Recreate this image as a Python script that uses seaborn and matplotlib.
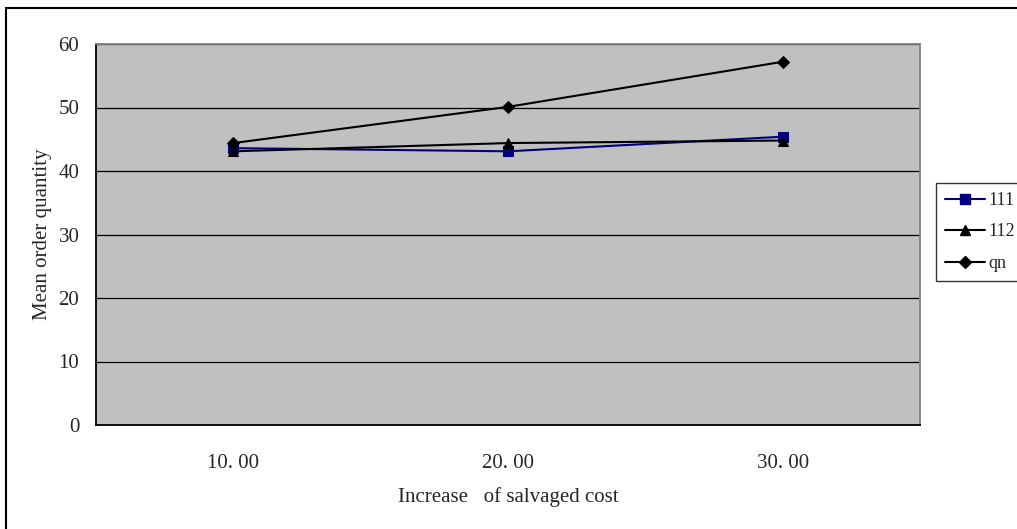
import pandas as pd
import seaborn as sns
import matplotlib.pyplot as plt
from matplotlib.patches import Rectangle
from matplotlib.lines import Line2D

# data
costs = ["10. 00", "20. 00", "30. 00"]
s111 = [43.6, 43.1, 45.4]
s112 = [43.1, 44.4, 44.8]
qn = [44.4, 50.1, 57.2]

df = pd.DataFrame({
    "cost": costs * 3,
    "value": s111 + s112 + qn,
    "series": ["111"] * 3 + ["112"] * 3 + ["qn"] * 3,
})

sns.set_style("white")
plt.rcParams["font.family"] = ["Liberation Serif", "DejaVu Serif"]

fig = plt.figure(figsize=(10.17, 5.29), dpi=100)
ax = fig.add_axes([96 / 1017, 104 / 529, 824 / 1017, 381 / 529])
ax.set_facecolor("#c0c0c0")

colors = {"111": "#000080", "112": "black", "qn": "black"}
markers = {"111": "s", "112": "^", "qn": "D"}
msizes = {"111": 7, "112": 7, "qn": 6}

for name, grp in df.groupby("series", sort=False):
    sns.lineplot(data=grp, x="cost", y="value", ax=ax, color=colors[name],
                 marker=markers[name], markersize=msizes[name],
                 markeredgecolor=colors[name], linewidth=1.5, legend=False)

ax.set_xlim(-0.5, 2.5)
ax.set_ylim(0, 60)
ax.set_yticks(range(0, 61, 10))
ax.yaxis.grid(True, color="black", linewidth=0.9)
ax.set_axisbelow(True)
ax.set_xticks([0, 1, 2])
ax.set_xticklabels(costs)
ax.set_xticks([-0.5, 0.5, 1.5, 2.5], minor=True)
ax.tick_params(axis="x", which="major", length=0, pad=21, labelsize=15)
ax.tick_params(axis="x", which="minor", direction="in", length=5, width=1, color="black")
ax.tick_params(axis="y", direction="out", length=4, width=1, color="black",
               labelsize=15, pad=8)
ax.set_xlabel("Increase   of salvaged cost", fontsize=15, labelpad=10)
ax.set_ylabel("Mean order quantity", fontsize=15, labelpad=5)

for side in ["left", "bottom"]:
    ax.spines[side].set_color("black")
    ax.spines[side].set_linewidth(1.3)
for side in ["top", "right"]:
    ax.spines[side].set_color("#808080")
    ax.spines[side].set_linewidth(1.3)
    ax.spines[side].set_visible(True)

handles = [Line2D([0], [0], color=colors[n], marker=markers[n], markersize=msizes[n],
                  markeredgecolor=colors[n], linewidth=1.5) for n in ["111", "112", "qn"]]
leg = fig.legend(handles, ["111", "112", "qn"], loc="upper left",
                 bbox_to_anchor=(936 / 1017, 1 - 183 / 529),
                 frameon=True, fancybox=False, edgecolor="black",
                 fontsize=13, handlelength=2.2, handletextpad=0.2,
                 labelspacing=0.8, borderpad=0.5, borderaxespad=0)
leg.get_frame().set_linewidth(1.0)

# outer chart border (right and bottom edges fall outside the image)
fig.patches.append(Rectangle((6 / 1017, -0.05), 1.1, 1 - 8 / 529 + 0.05,
                             transform=fig.transFigure, fill=False,
                             edgecolor="black", linewidth=1.5))

fig.savefig("out.png", dpi=100)
